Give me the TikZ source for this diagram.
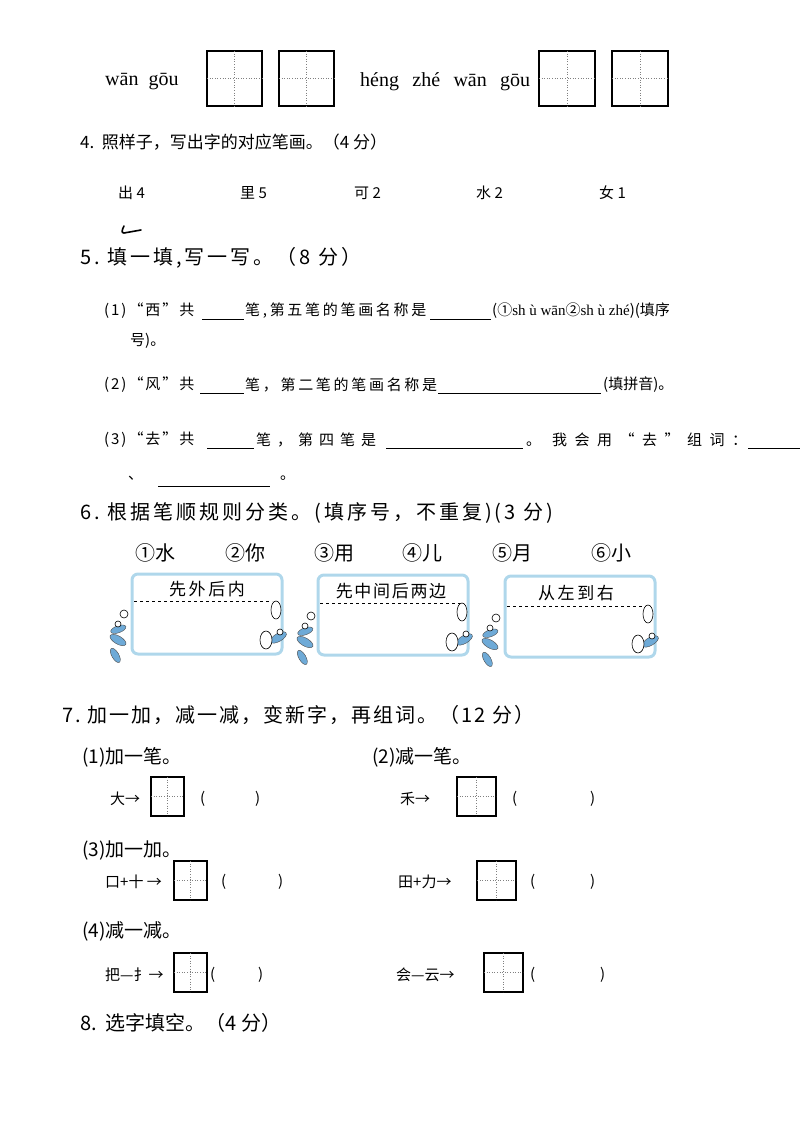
\documentclass[tikz,border=0pt]{standalone}
\usepackage{fontspec}
\setmainfont{Liberation Serif}
\newfontfamily\cjk{Noto Sans CJK SC}
\definecolor{boxblue}{RGB}{175,215,235}
\definecolor{leafblue}{RGB}{110,170,215}
\begin{document}
\begin{tikzpicture}[x=1pt,y=-1pt,
  txt/.style={anchor=west,inner sep=0pt,font=\cjk\fontsize{17}{17}\selectfont},
  wide/.style={anchor=west,inner sep=0pt,font=\cjk\fontsize{20}{20}\selectfont\addfontfeature{LetterSpace=#1}},
  small/.style={anchor=west,inner sep=0pt,font=\cjk\fontsize{15}{15}\selectfont},
  swide/.style={anchor=west,inner sep=0pt,font=\cjk\fontsize{15}{15}\selectfont\addfontfeature{LetterSpace=#1}},
  sub/.style={anchor=west,inner sep=0pt,font=\cjk\fontsize{19}{19}\selectfont},
  py/.style={anchor=west,inner sep=0pt,font=\fontsize{20}{20}\selectfont},
  gridbox/.style={draw=black,line width=1.1pt},
  cross/.style={draw=gray,dotted,line width=0.6pt},
  blank/.style={draw=black,line width=0.8pt},
  card/.style={draw=boxblue,line width=3pt,rounded corners=6pt},
  leaf/.style={fill=leafblue,draw=black!70,line width=0.4pt},
  foot/.style={fill=white,draw=black,line width=0.6pt}]
\useasboundingbox (0,0) rectangle (800,1132);
\newcommand\tz[5]{%
  \draw[gridbox] (#1,#2) rectangle (#3,#4);
  \coordinate (#5) at ({(#1+#3)/2},{(#2+#4)/2});
  \draw[cross] ({(#1+#3)/2},#2) -- ({(#1+#3)/2},#4);
  \draw[cross] (#1,{(#2+#4)/2}) -- (#3,{(#2+#4)/2});}
\newcommand\deco[2]{%
  \begin{scope}[shift={(#1,#2)}]
  \draw[leaf,rotate=-30] (0,0) ellipse (9pt and 4pt);
  \draw[leaf,rotate=20] (4,-10) ellipse (8pt and 3.5pt);
  \draw[leaf,rotate=-60] (12,10) ellipse (8pt and 3.5pt);
  \draw[foot] (6,-26) circle (4pt);
  \draw[foot] (0,-16) circle (3pt);
  \end{scope}}
\newcommand\feet[2]{%
  \begin{scope}[shift={(#1,#2)}]
  \draw[leaf,rotate=30] (12,4) ellipse (9pt and 4pt);
  \draw[foot] (0,0) ellipse (6pt and 9pt);
  \draw[foot] (10,-30) ellipse (5pt and 9pt);
  \draw[foot] (14,-8) circle (3pt);
  \end{scope}}

% top row
\node[py] (wg) at (105,82) {wān\ \ gōu};
\tz{207}{51}{262}{106}{b1}
\tz{279}{51}{334}{106}{b2}
\node[py] (hz) at (360,82) {héng\ \ \,zhé\ \ \,wān\ \ \,gōu};
\tz{539}{51}{595}{106}{b3}
\tz{612}{51}{668}{106}{b4}

% Q4
\node[txt] (q4) at (80,142) {4.\ \ 照样子，写出字的对应笔画。（4 分）};
\node[small] (c1) at (118,193) {出 4};
\node[small] (c2) at (240,193) {里 5};
\node[small] (c3) at (354,193) {可 2};
\node[small] (c4) at (476,193) {水 2};
\node[small] (c5) at (599,193) {女 1};
\draw[line width=1.6pt,line cap=round] (124,226) .. controls (122,230) and (121,233) .. (124,233) -- (141,230);

% Q5
\node[wide=15] (q5) at (80,258) {5.\ 填一填,写一写。（8 分）};
\node[swide=13] (l1a) at (104,311) {(1)“西”共};
\draw[blank] (202,319) -- (244,319);
\node[swide=18] (l1b) at (245,311) {笔,第五笔的笔画名称是};
\draw[blank] (430,319) -- (491,319);
\node[small] (l1c) at (492,311) {(①\fontspec{Liberation Serif}sh ù wān\cjk ②\fontspec{Liberation Serif}sh ù zhé\cjk )(填序};
\node[small] (l1d) at (130,341) {号)。};
\node[swide=13] (l2a) at (104,385) {(2)“风”共};
\draw[blank] (200,393) -- (244,393);
\node[swide=18] (l2b) at (245,385) {笔，第二笔的笔画名称是};
\draw[blank] (438,393) -- (601,393);
\node[small] (l2c) at (603,385) {(填拼音)。};
\node[swide=13] (l3a) at (104,440) {(3)“去”共};
\draw[blank] (207,448) -- (254,448);
\node[swide=40] (l3b) at (256,440) {笔，第四笔是};
\draw[blank] (386,448) -- (523,448);
\node[swide=50] (l3c) at (526,440) {。\ 我会用“去”组词：};
\draw[blank] (748,448) -- (800,448);
\node[small] (l3d) at (128,478) {、};
\draw[blank] (158,486) -- (270,486);
\node[small] (l3e) at (280,478) {。};

% Q6
\node[wide=15] (q6) at (80,513) {6.\ 根据笔顺规则分类。(填序号，不重复)(3 分)};
\begin{scope}[every node/.style={txt,font=\cjk\fontsize{20}{20}\selectfont}]
\node (o1) at (135,553) {①水};
\node (o2) at (225,553) {②你};
\node (o3) at (314,553) {③用};
\node (o4) at (402,553) {④儿};
\node (o5) at (492,553) {⑤月};
\node (o6) at (591,553) {⑥小};
\end{scope}
\draw[card] (132,574) rectangle (282,654);
\draw[card] (318,575) rectangle (468,655);
\draw[card] (505,576) rectangle (655,657);
\node[anchor=center,font=\cjk\fontsize{17}{17}\selectfont\addfontfeature{LetterSpace=15}] (t1) at (207,589) {先外后内};
\node[anchor=center,font=\cjk\fontsize{17}{17}\selectfont\addfontfeature{LetterSpace=10}] (t2) at (391,591) {先中间后两边};
\node[anchor=center,font=\cjk\fontsize{17}{17}\selectfont\addfontfeature{LetterSpace=15}] (t3) at (576,593) {从左到右};
\draw[dashed,line width=0.7pt] (134,601) -- (272,601);
\draw[dashed,line width=0.7pt] (320,603) -- (460,603);
\draw[dashed,line width=0.7pt] (507,606) -- (648,606);
\deco{118}{640}
\deco{305}{642}
\deco{490}{644}
\feet{266}{640}
\feet{452}{642}
\feet{638}{644}

% Q7
\node[wide=10] (q7) at (62,715) {7.\ 加一加，减一减，变新字，再组词。（12 分）};
\node[sub] (p1) at (82,757) {(1)加一笔。};
\node[sub] (p2) at (372,757) {(2)减一笔。};
\node[small] (a1) at (110,799) {大→};
\tz{151}{777}{184}{816}{g1}
\node[small] (a1l) at (200,799) {(};
\node[small] (a1r) at (255,799) {)};
\node[small] (a2) at (400,799) {禾→};
\tz{457}{777}{496}{816}{g2}
\node[small] (a2l) at (512,799) {(};
\node[small] (a2r) at (590,799) {)};
\node[sub] (p3) at (82,850) {(3)加一加。};
\node[small] (a3) at (105,882) {口+十\ →};
\tz{174}{861}{207}{900}{g3}
\node[small] (a3l) at (221,882) {(};
\node[small] (a3r) at (278,882) {)};
\node[small] (a4) at (398,882) {田+力→};
\tz{477}{861}{516}{900}{g4}
\node[small] (a4l) at (530,882) {(};
\node[small] (a4r) at (590,882) {)};
\node[sub] (p4) at (82,931) {(4)减一减。};
\node[small] (a5) at (105,975) {把—扌→};
\tz{174}{953}{207}{992}{g5}
\node[small] (a5l) at (210,975) {(};
\node[small] (a5r) at (258,975) {)};
\node[small] (a6) at (396,975) {会—云→};
\tz{484}{953}{523}{992}{g6}
\node[small] (a6l) at (530,975) {(};
\node[small] (a6r) at (600,975) {)};

% Q8
\node[wide=0] (q8) at (80,1023) {8.\ \ 选字填空。（4 分）};
\end{tikzpicture}
\end{document}
